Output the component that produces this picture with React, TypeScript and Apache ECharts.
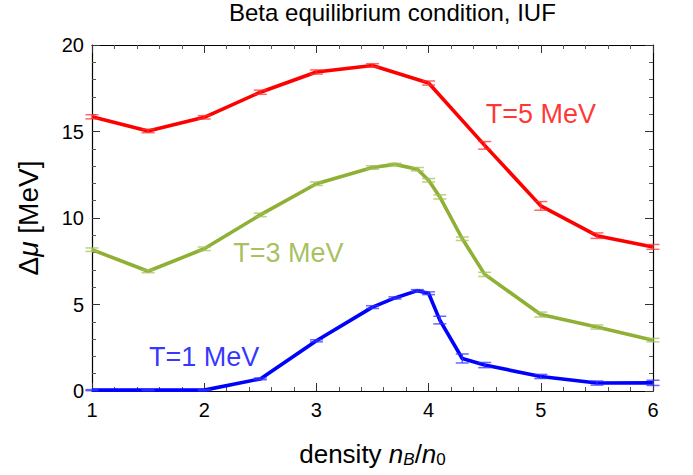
import React, { useEffect, useRef } from "react";
import * as echarts from "echarts";

const titleText = "Beta equilibrium condition, IUF";

const redX = [1, 1.5, 2, 2.5, 3, 3.5, 4, 4.5, 5, 5.5, 6];
const redY = [15.85, 15.03, 15.82, 17.27, 18.44, 18.82, 17.8, 14.2, 10.7, 8.98, 8.33];
const redErr = [0.12, 0.1, 0.1, 0.12, 0.12, 0.1, 0.12, 0.22, 0.25, 0.16, 0.14];

const fineX = [1, 1.5, 2, 2.5, 3, 3.5, 3.7, 3.9, 4, 4.1, 4.3, 4.5, 5, 5.5, 6];
const greenY = [8.17, 6.92, 8.22, 10.18, 11.98, 12.92, 13.1, 12.82, 12.18, 11.22, 8.8, 6.74, 4.42, 3.7, 2.94];
const greenErr = [0.1, 0.08, 0.1, 0.1, 0.1, 0.1, 0.06, 0.1, 0.1, 0.12, 0.1, 0.12, 0.14, 0.12, 0.1];
const blueY = [0.05, 0.05, 0.05, 0.7, 2.9, 4.85, 5.38, 5.8, 5.65, 4.1, 1.88, 1.5, 0.84, 0.46, 0.47];
const blueErr = [0.03, 0.03, 0.03, 0.05, 0.06, 0.08, 0.06, 0.06, 0.08, 0.22, 0.26, 0.15, 0.12, 0.12, 0.15];

const labels = [
  { text: "T=5 MeV", x: 5.0, y: 16.0, color: "#ff0000" },
  { text: "T=3 MeV", x: 2.75, y: 7.98, color: "#8fb035" },
  { text: "T=1 MeV", x: 2.0, y: 1.98, color: "#0000ff" },
];

const xTicks = [1, 2, 3, 4, 5, 6];
const yTicks = [0, 5, 10, 15, 20];

const FONT = "Liberation Sans, Arial, sans-serif";

function pairs(xs: number[], ys: number[]) {
  return xs.map((x, i) => [x, ys[i]]);
}
function errData(xs: number[], ys: number[], es: number[]) {
  return xs.map((x, i) => [x, ys[i] - es[i], ys[i] + es[i]]);
}

function errorSeries(data: number[][], color: string) {
  return {
    type: "custom",
    data,
    z: 3,
    renderItem: (params: any, api: any) => {
      const x = api.value(0);
      const lo = api.coord([x, api.value(1)]);
      const hi = api.coord([x, api.value(2)]);
      const w = 6.5;
      const style = { stroke: color, lineWidth: 1.5, opacity: 0.75 };
      return {
        type: "group",
        children: [
          { type: "line", shape: { x1: lo[0], y1: lo[1], x2: hi[0], y2: hi[1] }, style },
          { type: "line", shape: { x1: lo[0] - w, y1: lo[1], x2: lo[0] + w, y2: lo[1] }, style },
          { type: "line", shape: { x1: hi[0] - w, y1: hi[1], x2: hi[0] + w, y2: hi[1] }, style },
        ],
      };
    },
  };
}

function lineSeries(data: number[][], color: string) {
  return {
    type: "line",
    data,
    symbol: "none",
    z: 2,
    lineStyle: { color, width: 3.6, join: "round" },
  };
}

export default function App() {
  const ref = useRef<HTMLDivElement>(null);
  useEffect(() => {
    if (!ref.current) return;
    const chart = echarts.init(ref.current, undefined, { renderer: "svg" });
    const axisCommon = {
      type: "value",
      axisLine: { show: true, onZero: false, lineStyle: { color: "#000", width: 1.2 } },
      axisTick: { show: true, inside: true, length: 8, lineStyle: { color: "#333", width: 1 } },
      minorTick: { show: true, splitNumber: 5, length: 4, lineStyle: { color: "#555", width: 1 } },
      splitLine: { show: false },
      minorSplitLine: { show: false },
    };
    chart.setOption({
      animation: false,
      backgroundColor: "#fff",
      title: {
        text: titleText,
        left: 229,
        top: 0,
        padding: 0,
        textStyle: { fontFamily: FONT, fontSize: 24, fontWeight: "normal", color: "#000" },
      },
      grid: { left: 92, right: 40, top: 45, bottom: 84 },
      xAxis: [
        {
          ...axisCommon,
          min: xTicks[0],
          max: xTicks[xTicks.length - 1],
          interval: 1,
          position: "bottom",
          axisLabel: { fontFamily: FONT, fontSize: 20, color: "#000", margin: 9 },
          name: "density {i|n}{sub|B}/{i|n}{sub0|0}",
          nameLocation: "middle",
          nameGap: 48,
          nameTextStyle: {
            fontFamily: FONT,
            fontSize: 26,
            color: "#000",
            rich: {
              i: { fontFamily: FONT, fontSize: 26, fontStyle: "italic", color: "#000" },
              sub: { fontFamily: FONT, fontSize: 17, fontStyle: "italic", color: "#000", verticalAlign: "bottom", padding: [12, 0, 0, 0] },
              sub0: { fontFamily: FONT, fontSize: 17, color: "#000", verticalAlign: "bottom", padding: [12, 0, 0, 0] },
            },
          },
        },
        {
          ...axisCommon,
          min: xTicks[0],
          max: xTicks[xTicks.length - 1],
          interval: 1,
          position: "top",
          axisLabel: { show: false },
        },
      ],
      yAxis: [
        {
          ...axisCommon,
          min: yTicks[0],
          max: yTicks[yTicks.length - 1],
          interval: 5,
          position: "left",
          axisLabel: { fontFamily: FONT, fontSize: 20, color: "#000", margin: 8 },
          name: "Δ{i|μ} [MeV]",
          nameLocation: "middle",
          nameGap: 50,
          nameRotate: 90,
          nameTextStyle: {
            fontFamily: FONT,
            fontSize: 28,
            color: "#000",
            rich: { i: { fontFamily: FONT, fontSize: 28, fontStyle: "italic", color: "#000" } },
          },
        },
        {
          ...axisCommon,
          min: yTicks[0],
          max: yTicks[yTicks.length - 1],
          interval: 5,
          position: "right",
          axisLabel: { show: false },
        },
      ],
      series: [
        lineSeries(pairs(redX, redY), "#ff0000"),
        lineSeries(pairs(fineX, greenY), "#8fb035"),
        lineSeries(pairs(fineX, blueY), "#0000ff"),
        errorSeries(errData(redX, redY, redErr), "#ff3333"),
        errorSeries(errData(fineX, greenY, greenErr), "#a3c058"),
        errorSeries(errData(fineX, blueY, blueErr), "#3333ff"),
        ...labels.map((l) => ({
          type: "scatter",
          data: [[l.x, l.y]],
          symbolSize: 0,
          silent: true,
          z: 5,
          label: {
            show: true,
            position: "inside",
            formatter: l.text,
            fontFamily: FONT,
            fontSize: 27,
            color: l.color,
          },
        })),
      ],
    });
    return () => chart.dispose();
  }, []);
  return (
    <div
      ref={ref}
      style={{ position: "fixed", left: 0, top: 0, width: 693, height: 475 }}
    />
  );
}
